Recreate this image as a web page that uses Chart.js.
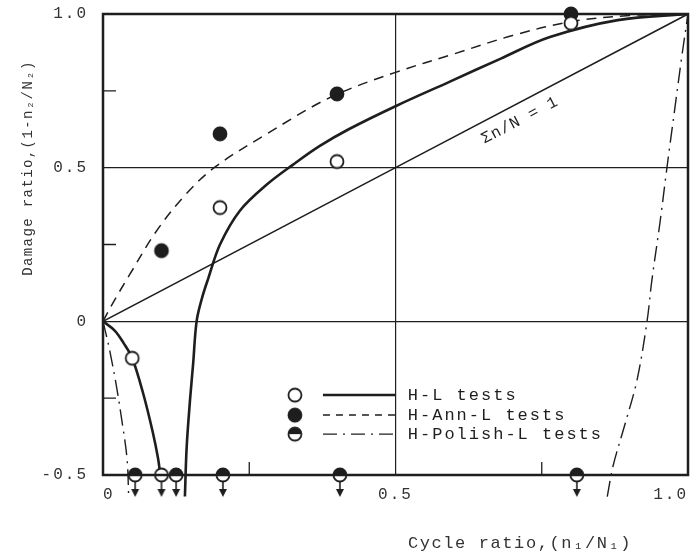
<!DOCTYPE html>
<html>
<head>
<meta charset="utf-8">
<script src="https://cdn.jsdelivr.net/npm/chart.js@4.4.0/dist/chart.umd.min.js"></script>
<style>
  html, body { margin: 0; padding: 0; background: #fff; }
</style>
</head>
<body>
<canvas id="damageChart" width="697" height="553"></canvas>
<script>
// tick labels
var xTickValues = [0, 0.5, 1.0];
var xTickLabels = ['0', '0.5', '1.0'];
var yTickValues = [-0.5, 0, 0.5, 1.0];
var yTickLabels = ['-0.5', '0', '0.5', '1.0'];
var xMinorTicks = [0.25, 0.75];
var yMinorTicks = [-0.25, 0.25, 0.75];

// H-L tests (open circles)
var hlTestX = [0.05, 0.1, 0.2, 0.4, 0.8];
var hlTestY = [-0.12, -0.5, 0.37, 0.52, 0.97];
// H-Ann-L tests (filled circles)
var annTestX = [0.1, 0.2, 0.4, 0.8];
var annTestY = [0.23, 0.61, 0.74, 1.0];
// H-Polish-L tests (half circles, run-outs at -0.5)
var polTestX = [0.055, 0.125, 0.205, 0.405, 0.81];
var polTestY = [-0.5, -0.5, -0.5, -0.5, -0.5];

// H-L curve, two branches
var hlLowX = [0, 0.02, 0.035, 0.05, 0.068, 0.085, 0.094, 0.098];
var hlLowY = [0, -0.03, -0.07, -0.12, -0.23, -0.36, -0.445, -0.5];
var hlHighX = [0.14, 0.143, 0.149, 0.154, 0.16, 0.169, 0.18, 0.2, 0.234, 0.28, 0.325, 0.37, 0.42, 0.5, 0.593, 0.68, 0.764, 0.88, 1.0];
var hlHighY = [-0.57, -0.41, -0.25, -0.14, 0, 0.074, 0.14, 0.25, 0.36, 0.445, 0.51, 0.57, 0.625, 0.70, 0.78, 0.855, 0.925, 0.98, 1.0];
// H-Ann-L curve
var annX = [0, 0.02, 0.045, 0.09, 0.14, 0.19, 0.28, 0.39, 0.5, 0.6, 0.7, 0.8, 0.9, 1.0];
var annY = [0, 0.07, 0.15, 0.29, 0.41, 0.5, 0.61, 0.73, 0.81, 0.87, 0.93, 0.975, 0.995, 1.0];
// H-Polish-L curve, two branches
var polLowX = [0, 0.005, 0.012, 0.022, 0.032, 0.041, 0.044];
var polLowY = [0, -0.04, -0.1, -0.2, -0.32, -0.445, -0.575];
var polHighX = [0.862, 0.872, 0.893, 0.913, 0.93, 0.938, 0.952, 0.964, 0.978, 0.99, 1.0];
var polHighY = [-0.57, -0.47, -0.33, -0.19, 0, 0.13, 0.32, 0.5, 0.7, 0.87, 1.0];
// linear rule
var minerX = [0, 1];
var minerY = [0, 1];

var minerLabel = '\u03A3n/N = 1';
var xTitle = 'Cycle ratio,(n\u2081/N\u2081)';
var yTitle = 'Damage ratio,(1-n\u2082/N\u2082)';
var legendLabels = ['H-L tests', 'H-Ann-L tests', 'H-Polish-L tests'];

var ink = '#1e1e1e';
var mono = "'Liberation Mono', 'DejaVu Sans Mono', monospace";

function pts(xs, ys) {
  return xs.map(function (x, i) { return { x: x, y: ys[i] }; });
}

// marker glyphs: open, filled or half filled circle, optional run-out arrow
function makeMarker(kind, arrow) {
  var c = document.createElement('canvas');
  c.width = 18;
  c.height = arrow ? 52 : 18;
  var g = c.getContext('2d');
  var cx = 9, cy = c.height / 2, r = 6.5;
  g.lineWidth = 1.8;
  g.strokeStyle = ink;
  g.fillStyle = kind === 'filled' ? ink : '#fff';
  g.beginPath(); g.arc(cx, cy, r, 0, Math.PI * 2); g.fill();
  g.fillStyle = ink;
  if (kind === 'half') {
    g.beginPath(); g.arc(cx, cy, r, Math.PI, Math.PI * 2); g.closePath(); g.fill();
  }
  g.beginPath(); g.arc(cx, cy, r, 0, Math.PI * 2); g.stroke();
  if (arrow) {
    g.lineWidth = 1.6;
    g.beginPath(); g.moveTo(cx, cy + r); g.lineTo(cx, cy + 16); g.stroke();
    g.beginPath(); g.moveTo(cx - 4, cy + 14); g.lineTo(cx + 4, cy + 14); g.lineTo(cx, cy + 22); g.closePath(); g.fill();
  }
  return c;
}

var openDot = makeMarker('open', false);
var openArrow = makeMarker('open', true);
var fullDot = makeMarker('filled', false);
var halfArrow = makeMarker('half', true);

var hlStyles = hlTestY.map(function (y) { return y <= -0.5 ? openArrow : openDot; });

function curve(xs, ys, width, dash) {
  return {
    data: pts(xs, ys),
    showLine: true,
    borderColor: ink,
    borderWidth: width,
    borderDash: dash,
    pointRadius: 0,
    tension: 0.35,
    fill: false,
    order: 2,
    clip: { left: 0, top: 0, right: 0, bottom: 26 }
  };
}

function markers(xs, ys, style) {
  return {
    data: pts(xs, ys),
    showLine: false,
    pointStyle: style,
    pointRadius: 7,
    order: 0,
    clip: false
  };
}

var framePlugin = {
  id: 'frameAndText',
  beforeDraw: function (chart) {
    chart.ctx.letterSpacing = '2px';
  },
  afterDatasetsDraw: function (chart) {
    var ctx = chart.ctx, a = chart.chartArea;
    var xs = chart.scales.x, ys = chart.scales.y;
    ctx.save();
    ctx.strokeStyle = ink;
    ctx.lineWidth = 2.5;
    ctx.strokeRect(a.left, a.top, a.right - a.left, a.bottom - a.top);

    // short inward ticks
    ctx.lineWidth = 1.3;
    ctx.beginPath();
    yMinorTicks.forEach(function (v) {
      var py = ys.getPixelForValue(v);
      ctx.moveTo(a.left, py); ctx.lineTo(a.left + 13, py);
    });
    xMinorTicks.forEach(function (v) {
      var px = xs.getPixelForValue(v);
      ctx.moveTo(px, a.bottom); ctx.lineTo(px, a.bottom - 13);
    });
    ctx.stroke();

    // label along the linear rule
    var p0x = xs.getPixelForValue(0), p0y = ys.getPixelForValue(0);
    var p1x = xs.getPixelForValue(1), p1y = ys.getPixelForValue(1);
    var ang = Math.atan2(p1y - p0y, p1x - p0x);
    var lx = xs.getPixelForValue(0.7), ly = ys.getPixelForValue(0.7);
    lx += -Math.sin(ang) * 16; ly += Math.cos(ang) * 16;
    ctx.translate(lx, ly);
    ctx.rotate(ang);
    ctx.fillStyle = ink;
    ctx.font = '16px ' + mono;
    ctx.letterSpacing = '1px';
    ctx.textAlign = 'center';
    ctx.textBaseline = 'middle';
    ctx.fillText(minerLabel, 0, 0);
    ctx.restore();

    // legend
    ctx.save();
    ctx.fillStyle = ink;
    ctx.strokeStyle = ink;
    ctx.font = '17px ' + mono;
    ctx.letterSpacing = '2px';
    ctx.textBaseline = 'middle';
    var rowY = [-0.24, -0.305, -0.367];
    var dotX = xs.getPixelForValue(0.328);
    var l0 = xs.getPixelForValue(0.376), l1 = xs.getPixelForValue(0.5);
    var tx = xs.getPixelForValue(0.521);
    var dots = [openDot, fullDot, makeMarker('half', false)];
    var lw = [2.5, 1.4, 1.4];
    var dash = [[], [7, 6], [14, 6, 2, 6]];
    legendLabels.forEach(function (lab, i) {
      var py = ys.getPixelForValue(rowY[i]);
      ctx.drawImage(dots[i], dotX - 9, py - 9);
      ctx.lineWidth = lw[i];
      ctx.setLineDash(dash[i]);
      ctx.beginPath(); ctx.moveTo(l0, py); ctx.lineTo(l1, py); ctx.stroke();
      ctx.setLineDash([]);
      ctx.fillText(lab, tx, py);
    });
    ctx.restore();

    // axis titles
    ctx.save();
    ctx.fillStyle = '#333';
    ctx.textAlign = 'center';
    ctx.textBaseline = 'middle';
    ctx.font = '17px ' + mono;
    ctx.letterSpacing = '1.6px';
    ctx.fillText(xTitle, 520, 543);
    ctx.translate(28, 168);
    ctx.rotate(-Math.PI / 2);
    ctx.font = '14px ' + mono;
    ctx.letterSpacing = '1.4px';
    ctx.fillText(yTitle, 0, 0);
    ctx.restore();
  }
};

Chart.defaults.font.family = mono;
Chart.defaults.font.size = 16;
Chart.defaults.color = '#333';

var ctx = document.getElementById('damageChart').getContext('2d');
var damageChart = new Chart(ctx, {
  type: 'scatter',
  data: {
    datasets: [
      markers(hlTestX, hlTestY, hlStyles),
      markers(annTestX, annTestY, fullDot),
      markers(polTestX, polTestY, halfArrow),
      curve(minerX, minerY, 1.6, []),
      curve(hlLowX, hlLowY, 2.6, []),
      curve(hlHighX, hlHighY, 2.6, []),
      curve(annX, annY, 1.5, [10, 7]),
      curve(polLowX, polLowY, 1.4, [16, 6, 2, 6]),
      curve(polHighX, polHighY, 1.4, [16, 6, 2, 6])
    ]
  },
  options: {
    responsive: false,
    animation: false,
    events: [],
    layout: { padding: { left: 0, right: 9, top: 14, bottom: 0 } },
    plugins: {
      legend: { display: false },
      tooltip: { enabled: false }
    },
    scales: {
      x: {
        type: 'linear',
        min: 0,
        max: 1,
        afterBuildTicks: function (s) {
          s.ticks = xTickValues.map(function (v) { return { value: v }; });
        },
        afterFit: function (s) { s.height = 78; s.paddingLeft = 0; s.paddingRight = 0; },
        ticks: {
          align: 'inner',
          padding: 10,
          color: '#333',
          callback: function (v) { return xTickLabels[xTickValues.indexOf(v)]; }
        },
        grid: {
          drawTicks: false,
          color: function (c) { return c.tick && c.tick.value === 0.5 ? ink : 'rgba(0,0,0,0)'; },
          lineWidth: 1.2
        },
        border: { display: false }
      },
      y: {
        type: 'linear',
        min: -0.5,
        max: 1,
        afterBuildTicks: function (s) {
          s.ticks = yTickValues.map(function (v) { return { value: v }; });
        },
        afterFit: function (s) { s.width = 103; s.paddingTop = 0; s.paddingBottom = 0; },
        ticks: {
          padding: 15,
          color: '#333',
          callback: function (v) { return yTickLabels[yTickValues.indexOf(v)]; }
        },
        grid: {
          drawTicks: false,
          color: function (c) { return c.tick && (c.tick.value === 0.5 || c.tick.value === 0) ? ink : 'rgba(0,0,0,0)'; },
          lineWidth: 1.2
        },
        border: { display: false }
      }
    }
  },
  plugins: [framePlugin]
});
</script>
</body>
</html>
